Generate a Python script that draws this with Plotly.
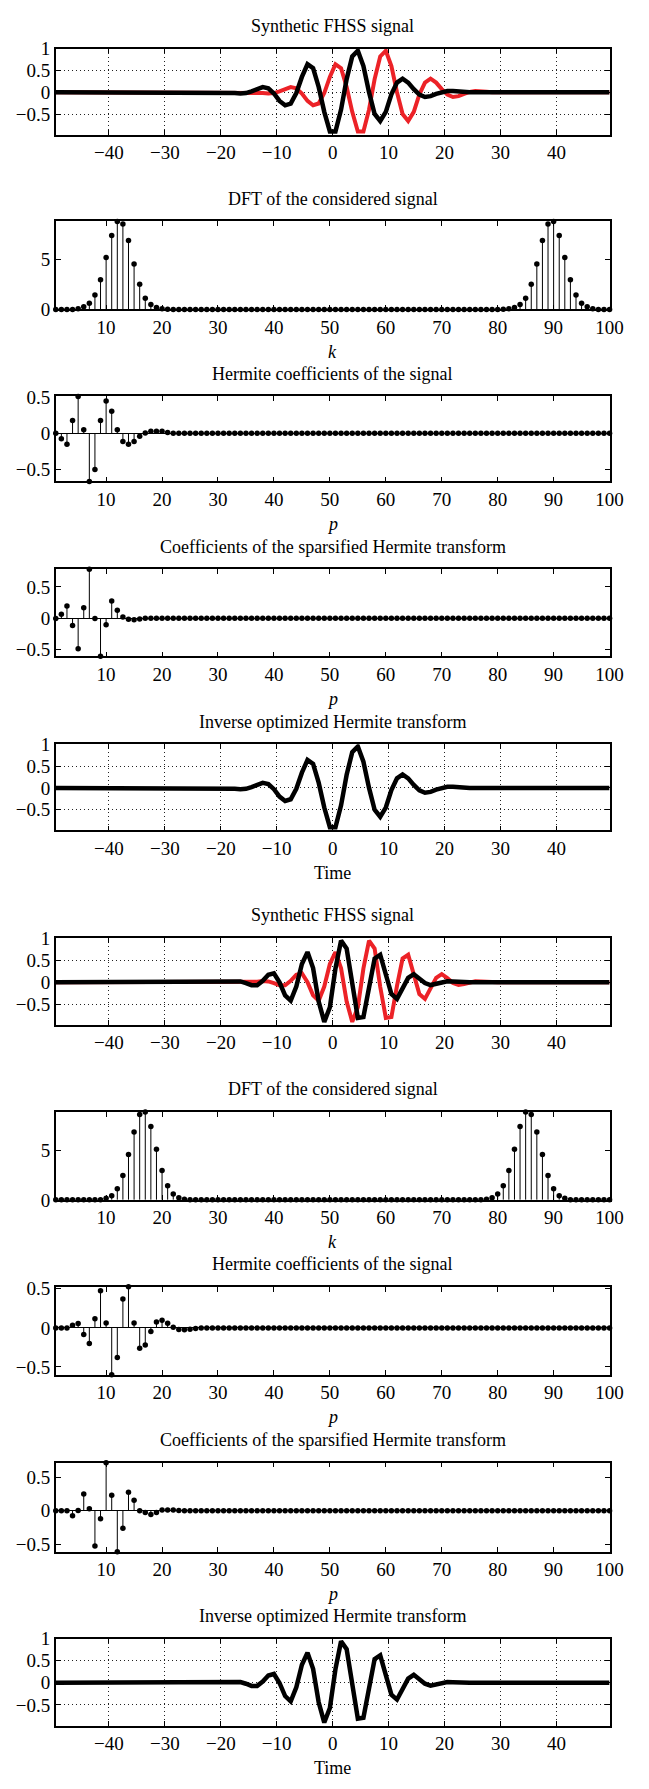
import plotly.graph_objects as go

W, H = 649, 1789
FONT = "Liberation Serif, Times New Roman, serif"
RED = "#ec2227"
BLACK = "#000000"

# ---------------- data ----------------
# 100 time samples
time = [-49.5 + n for n in range(100)]
# coefficient / frequency index
index = list(range(1, 101))

# first FHSS example (black and red components), t = -49.5 ... 49.5
sig1_black = [0.0] * 32 + [
    -0.02, -0.03, -0.02, 0.02, 0.08, 0.115, 0.09, -0.03, -0.20, -0.30,
    -0.26, -0.02, 0.35, 0.64, 0.55, 0.12, -0.45, -0.90, -0.90, -0.40,
    0.30, 0.82, 0.95, 0.60, 0.0, -0.50, -0.66, -0.45, -0.05, 0.22,
    0.31, 0.22, 0.07, -0.055, -0.11, -0.09, -0.04, 0.005, 0.025, 0.025,
    0.012, 0.0] + [0.0] * 26
sig1_red = [0.0] * 37 + [
    -0.02, -0.03, -0.02, 0.02, 0.08, 0.115, 0.09, -0.03, -0.20, -0.30,
    -0.26, -0.02, 0.35, 0.64, 0.55, 0.12, -0.45, -0.90, -0.90, -0.40,
    0.30, 0.82, 0.95, 0.60, 0.0, -0.50, -0.66, -0.45, -0.05, 0.22,
    0.31, 0.22, 0.07, -0.055, -0.11, -0.09, -0.04, 0.005, 0.025, 0.025,
    0.012, 0.0] + [0.0] * 21

dft_1 = [0.0, 0.0, 0.0, 0.0, 0.07, 0.26, 0.62, 1.45, 2.96, 5.2, 7.4, 8.8,
         8.55, 6.9, 4.54, 2.53, 1.12, 0.49, 0.2, 0.06, 0.02] + [0.0] * 59 + [
         0.02, 0.06, 0.2, 0.49, 1.12, 2.53, 4.54, 6.9, 8.55, 8.8, 7.4, 5.2,
         2.96, 1.45, 0.62, 0.26, 0.07, 0.0, 0.0, 0.0]

herm_1 = [0.0, -0.077, -0.15, 0.177, 0.51, 0.05, -0.665, -0.5, 0.177, 0.445,
          0.305, 0.05, -0.114, -0.15, -0.114, -0.04, 0.005, 0.03, 0.03, 0.027,
          0.01] + [0.0] * 79

sparse_1 = [-0.005, 0.063, 0.195, -0.116, -0.49, 0.168, 0.78, -0.005, -0.61,
            -0.105, 0.274, 0.126, 0.02, -0.016, -0.026, -0.012] + [0.0] * 84

# second FHSS example
sig2_black = [0.0] * 31 + [
    0.01, 0.023, 0.017, -0.021, -0.07, -0.07, 0.028, 0.165, 0.2, -0.003,
    -0.3, -0.42, -0.10, 0.41, 0.68, 0.317, -0.44, -0.90, -0.57, 0.31,
    0.94, 0.76, -0.105, -0.81, -0.79, -0.087, 0.535, 0.62, 0.175, -0.27,
    -0.38, -0.16, 0.095, 0.18, 0.094, -0.02, -0.066, -0.042, 0.0, 0.019,
    0.015, 0.003] + [0.0] * 27
sig2_red = [0.0] * 36 + [
    0.01, 0.023, 0.017, -0.021, -0.07, -0.07, 0.028, 0.165, 0.2, -0.003,
    -0.3, -0.42, -0.10, 0.41, 0.68, 0.317, -0.44, -0.90, -0.57, 0.31,
    0.94, 0.76, -0.105, -0.81, -0.79, -0.087, 0.535, 0.62, 0.175, -0.27,
    -0.38, -0.16, 0.095, 0.18, 0.094, -0.02, -0.066, -0.042, 0.0, 0.019,
    0.015, 0.003] + [0.0] * 22

dft_2 = [0.0] * 9 + [0.15, 0.42, 1.11, 2.45, 4.54, 6.8, 8.56, 8.82, 7.35, 5.07,
                     2.94, 1.41, 0.59, 0.2, 0.06, 0.02] + [0.0] * 51 + [
         0.02, 0.06, 0.2, 0.59, 1.41, 2.94, 5.07, 7.35, 8.82, 8.56, 6.8, 4.54,
         2.45, 1.11, 0.42, 0.15] + [0.0] * 8

herm_2 = [0.0, 0.0, 0.0, 0.034, 0.055, -0.084, -0.2, 0.118, 0.475, 0.063,
          -0.6, -0.38, 0.37, 0.525, 0.063, -0.26, -0.22, -0.046, 0.076, 0.097,
          0.06, 0.008, -0.02, -0.025, -0.017, -0.008, -0.003] + [0.0] * 73

sparse_2 = [0.0, 0.0, 0.0, -0.075, 0.005, 0.25, 0.03, -0.525, -0.12, 0.715,
            0.23, -0.61, -0.26, 0.275, 0.155, 0.0, -0.025, -0.055, -0.025, 0.01,
            0.01, 0.01, 0.005] + [0.0] * 77

time_ticks = [-40, -30, -20, -10, 0, 10, 20, 30, 40]
index_ticks = [10, 20, 30, 40, 50, 60, 70, 80, 90, 100]
signal_yticks = [-0.5, 0, 0.5, 1]
coef_yticks = [-0.5, 0, 0.5]
dft_yticks = [0, 5]

# ---------------- panel layout (pixel boxes) ----------------
T_SIG = "Synthetic FHSS signal"
T_DFT = "DFT of the considered signal"
T_HER = "Hermite coefficients of the signal"
T_SPA = "Coefficients of the sparsified Hermite transform"
T_INV = "Inverse optimized Hermite transform"

panels = [
    dict(kind="time", top=39, bottom=126, title=T_SIG, xlabel=None,
         lines=[(sig1_red, RED, 4.0), (sig1_black, BLACK, 4.5)]),
    dict(kind="stem", top=214, bottom=303, title=T_DFT, xlabel="<i>k</i>",
         vals=dft_1, yticks=dft_yticks),
    dict(kind="stem", top=391, bottom=477, title=T_HER, xlabel="<i>p</i>",
         vals=herm_1, yticks=coef_yticks),
    dict(kind="stem", top=566, bottom=654, title=T_SPA, xlabel="<i>p</i>",
         vals=sparse_1, yticks=coef_yticks),
    dict(kind="time", top=743, bottom=830, title=T_INV, xlabel="Time",
         lines=[(sig1_black, BLACK, 4.5)]),
    dict(kind="time", top=939, bottom=1027, title=T_SIG, xlabel=None,
         lines=[(sig2_red, RED, 4.0), (sig2_black, BLACK, 4.5)]),
    dict(kind="stem", top=1115, bottom=1204, title=T_DFT, xlabel="<i>k</i>",
         vals=dft_2, yticks=dft_yticks),
    dict(kind="stem", top=1292, bottom=1381, title=T_HER, xlabel="<i>p</i>",
         vals=herm_2, yticks=coef_yticks),
    dict(kind="stem", top=1470, bottom=1560, title=T_SPA, xlabel="<i>p</i>",
         vals=sparse_2, yticks=coef_yticks),
    dict(kind="time", top=1648, bottom=1736, title=T_INV, xlabel="Time",
         lines=[(sig2_black, BLACK, 4.5)]),
]

X_LEFT, X_RIGHT = 57, 623
TICK_FONT = dict(family=FONT, size=19, color="black")
TEXT_FONT = dict(family=FONT, size=18, color="black")
GRID = dict(showgrid=True, gridcolor="#222222", griddash="1px,3px", gridwidth=1)

fig = go.Figure()
layout = dict(
    width=W, height=H, margin=dict(l=0, r=0, t=0, b=0),
    paper_bgcolor="white", plot_bgcolor="white", showlegend=False,
    annotations=[],
)

for i, p in enumerate(panels, start=1):
    xa = "x" if i == 1 else f"x{i}"
    ya = "y" if i == 1 else f"y{i}"
    xkey = "xaxis" if i == 1 else f"xaxis{i}"
    ykey = "yaxis" if i == 1 else f"yaxis{i}"

    common = dict(
        showline=True, linecolor="black", linewidth=1.5, mirror="ticks",
        ticks="inside", ticklen=5, tickwidth=1, tickcolor="black",
        tickfont=TICK_FONT, zeroline=False, fixedrange=True,
    )
    xdom = [X_LEFT / W, X_RIGHT / W]
    ydom = [1 - p["bottom"] / H, 1 - p["top"] / H]

    if p["kind"] == "time":
        for vals, col, lw in p["lines"]:
            fig.add_trace(go.Scatter(x=time, y=vals, mode="lines",
                                     line=dict(color=col, width=lw),
                                     xaxis=xa, yaxis=ya, hoverinfo="skip"))
        xaxis = dict(common, domain=xdom, anchor=ya, range=[time[0], time[-1]],
                     tickvals=time_ticks, **GRID)
        yaxis = dict(common, domain=ydom, anchor=xa, range=[-0.97, 1.0],
                     tickvals=signal_yticks, **GRID)
    else:
        vals = p["vals"]
        sx, sy = [], []
        for k, v in zip(index, vals):
            sx += [k, k, None]
            sy += [0, v, None]
        fig.add_trace(go.Scatter(x=sx, y=sy, mode="lines",
                                 line=dict(color="black", width=1),
                                 xaxis=xa, yaxis=ya, hoverinfo="skip",
                                 cliponaxis=False))
        fig.add_trace(go.Scatter(x=index, y=vals, mode="markers",
                                 marker=dict(color="black", size=5.5),
                                 xaxis=xa, yaxis=ya, hoverinfo="skip",
                                 cliponaxis=False))
        lo, hi = min(vals), max(vals)
        xaxis = dict(common, domain=xdom, anchor=ya, range=[index[0], index[-1]],
                     tickvals=index_ticks, showgrid=False)
        yaxis = dict(common, domain=ydom, anchor=xa, range=[lo, hi],
                     tickvals=p["yticks"], showgrid=False,
                     zeroline=lo < 0, zerolinecolor="black", zerolinewidth=1)
    layout[xkey] = xaxis
    layout[ykey] = yaxis

    # panel title
    layout["annotations"].append(dict(
        text=p["title"], x=(X_LEFT + X_RIGHT) / 2 / W, y=1 - (p["top"] - 23) / H,
        xref="paper", yref="paper", showarrow=False, xanchor="center",
        yanchor="middle", font=TEXT_FONT))
    if p["xlabel"]:
        layout["annotations"].append(dict(
            text=p["xlabel"], x=(X_LEFT + X_RIGHT) / 2 / W,
            y=1 - (p["bottom"] + 43) / H, xref="paper", yref="paper",
            showarrow=False, xanchor="center", yanchor="middle",
            font=TEXT_FONT))

fig.update_layout(**layout)
fig.write_html("out.html")
